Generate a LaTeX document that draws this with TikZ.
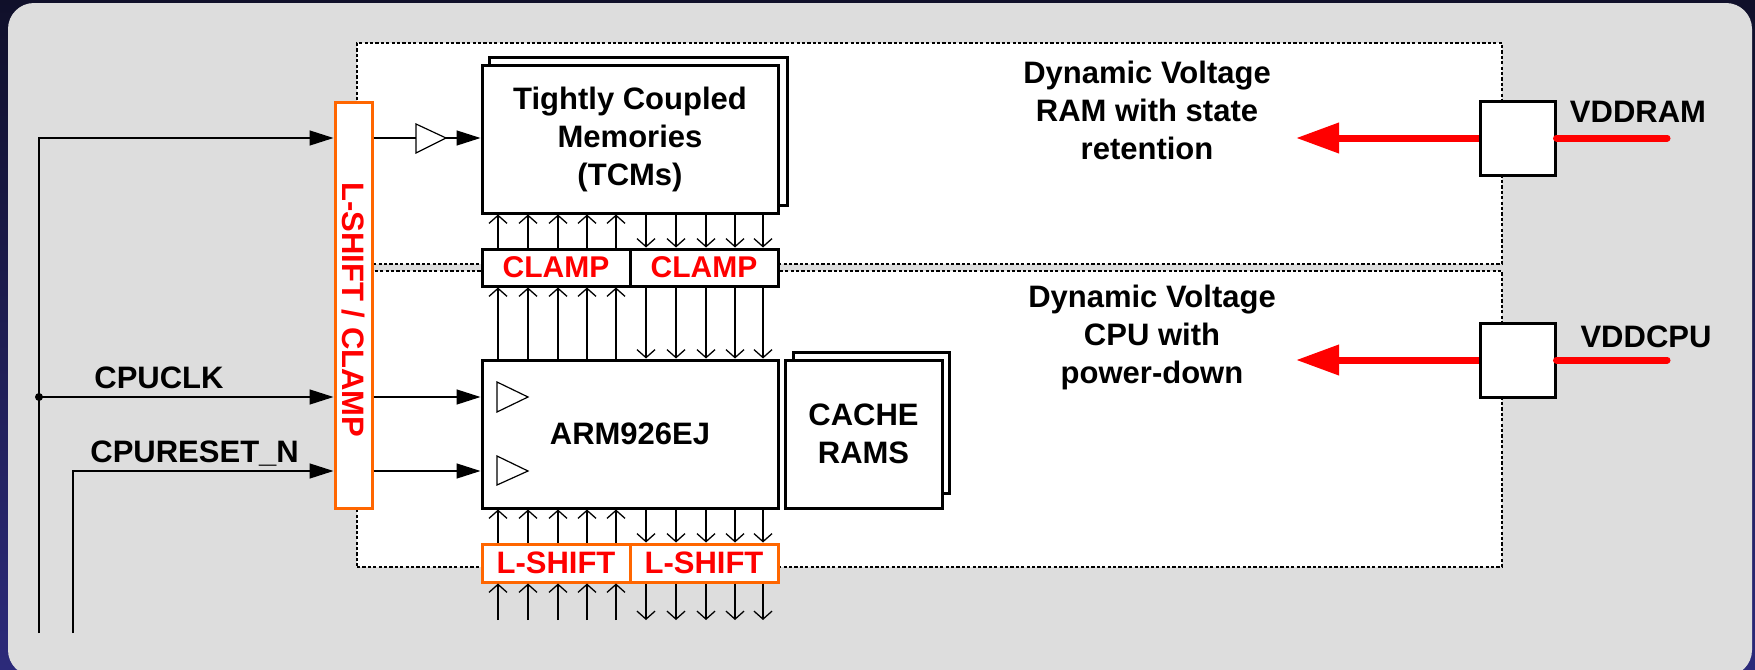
\documentclass[tikz,border=0pt]{standalone}
\usepackage{fontspec}
\setmainfont{Liberation Sans}
\usetikzlibrary{arrows.meta,calc}
\definecolor{navytop}{RGB}{16,16,42}
\definecolor{navybot}{RGB}{44,42,122}
\definecolor{panel}{RGB}{221,221,221}
\definecolor{orng}{RGB}{255,102,0}
\definecolor{sigred}{RGB}{255,0,0}
\begin{document}
\begin{tikzpicture}[x=0.5pt,y=-0.5pt,
  txt/.style={font=\fontsize{15.5}{19}\selectfont\bfseries, align=center},
  blk/.style={draw=black, line width=1.5pt, fill=white, inner sep=0pt, rectangle},
  lsbox/.style={draw=orng, line width=1.5pt, fill=white, inner sep=0pt, text=sigred, font=\fontsize{15.5}{19}\selectfont\bfseries, minimum width=74pt, minimum height=19pt},
  clbox/.style={blk, text=sigred, font=\fontsize{15}{19}\selectfont\bfseries, minimum width=74pt, minimum height=18.5pt},
  vdomain/.style={draw=black, line width=0.7pt, dash pattern=on 1.6pt off 1.1pt, fill=white, inner sep=0pt, minimum width=572.5pt},
  vreg/.style={blk, minimum width=37.5pt, minimum height=37pt},
  lbl/.style={txt, inner sep=0pt},
  sig/.style={line width=0.7pt},
  sigarr/.style={sig, -{Triangle[length=12pt,width=7.5pt]}},
  bus/.style={line width=0.65pt, -{Straight Barb[length=4pt,width=9pt,line width=0.65pt]}},
  pwr/.style={draw=sigred, line width=3.5pt},
  buftri/.style={line width=0.6pt, fill=white},
]
\useasboundingbox (0,0) rectangle (1755,669);
\shade[top color=navytop, bottom color=navybot] (0,0) rectangle (1755,669);
\fill[panel, rounded corners=13pt] (8,3) rectangle (1752,676);

% voltage domains
\node[vdomain, minimum height=110.5pt] (ramdom) at (929.5,153.5) {};
\node[vdomain, minimum height=148pt] (cpudom) at (929.5,419) {};

% domain labels
\node[lbl] (ramlbl) at (1147,110) {Dynamic Voltage\\RAM with state\\retention};
\node[lbl] (cpulbl) at (1152,337) {Dynamic Voltage\\CPU with\\power-down};

% level shifter / clamp bar
\node[lsbox, minimum width=18.5pt, minimum height=203pt] (bar) at (353.5,305) {};
\node[rotate=-90, text=sigred, font=\fontsize{15.5}{19}\selectfont\bfseries, inner sep=0pt] (bartxt) at (353.5,310) {L-SHIFT / CLAMP};

% TCM
\node[blk, minimum width=149pt, minimum height=74pt] (tcmback) at (638,131) {};
\node[blk, txt, minimum width=148pt, minimum height=74pt] (tcm) at (630,139) {Tightly Coupled\\Memories\\(TCMs)};

% clamps
\node[clbox] (clampL) at (556,267.5) {CLAMP};
\node[clbox] (clampR) at (704,267.5) {CLAMP};

% ARM core
\node[blk, txt, minimum width=148pt, minimum height=74pt] (arm) at (630,434) {ARM926EJ};

% cache
\node[blk, minimum width=78pt, minimum height=70.5pt] (cacheback) at (871,422.5) {};
\node[blk, txt, minimum width=78.5pt, minimum height=74pt] (cache) at (863.5,434) {CACHE\\RAMS};

% level shifters
\node[lsbox] (lsL) at (556,563) {L-SHIFT};
\node[lsbox] (lsR) at (704,563) {L-SHIFT};

% power supplies
\coordinate (ramend) at (1667,138);
\coordinate (ramtip) at (1296,138);
\coordinate (cpuend) at (1667,360);
\coordinate (cputip) at (1296,360);
\node[vreg] (vram) at (1517.5,138) {};
\node[vreg] (vcpu) at (1517.5,360) {};
\draw[pwr, line cap=round] (ramend) -- (vram.east);
\draw[pwr, -{Triangle[length=21.5pt,width=14.5pt]}] (vram.west) -- (ramtip);
\draw[pwr, line cap=round] (cpuend) -- (vcpu.east);
\draw[pwr, -{Triangle[length=21.5pt,width=14.5pt]}] (vcpu.west) -- (cputip);
\node[lbl] (vramlbl) at (1638,112) {VDDRAM};
\node[lbl] (vcpulbl) at (1646,337) {VDDCPU};

% input signals
\coordinate (clkbot) at (39,633);
\coordinate (rstbot) at (73,633);
\coordinate (busend) at (0,620);
\coordinate (bufin) at (416,138);
\coordinate (bufout) at (446,138);
\draw[sigarr] (clkbot) |- (bar.west |- 0,138);
\draw[sigarr] (clkbot |- 0,397) -- (bar.west |- 0,397);
\fill (clkbot |- 0,397) circle (2pt);
\draw[sigarr] (rstbot) |- (bar.west |- 0,471);
\node[lbl, anchor=base west] (clklbl) at (94,388) {CPUCLK};
\node[lbl, anchor=base west] (rstlbl) at (90,462) {CPURESET\_N};

% after the bar
\draw[sig] (bar.east |- bufin) -- (bufin);
\draw[buftri] (416,124) -- (bufout) -- (416,153) -- cycle;
\draw[sigarr] (bufout) -- (tcm.west |- bufout);
\draw[sigarr] (bar.east |- 0,397) -- (arm.west |- 0,397);
\draw[sigarr] (bar.east |- 0,471) -- (arm.west |- 0,471);
\draw[buftri] (497,382) -- (528,397) -- (497,412) -- cycle;
\draw[buftri] (497,456) -- (528,471) -- (497,485) -- cycle;

% buses
\foreach \x in {498,528,558,587,616} {
  \draw[bus] (\x,0 |- clampL.north) -- (\x,0 |- tcm.south);
  \draw[bus] (\x,0 |- arm.north) -- (\x,0 |- clampL.south);
  \draw[bus] (\x,0 |- lsL.north) -- (\x,0 |- arm.south);
  \draw[bus] (\x,0 |- busend) -- (\x,0 |- lsL.south);
}
\foreach \x in {646,676,706,735,763} {
  \draw[bus] (\x,0 |- tcm.south) -- (\x,0 |- clampR.north);
  \draw[bus] (\x,0 |- clampR.south) -- (\x,0 |- arm.north);
  \draw[bus] (\x,0 |- arm.south) -- (\x,0 |- lsR.north);
  \draw[bus] (\x,0 |- lsR.south) -- (\x,0 |- busend);
}
\end{tikzpicture}
\end{document}
